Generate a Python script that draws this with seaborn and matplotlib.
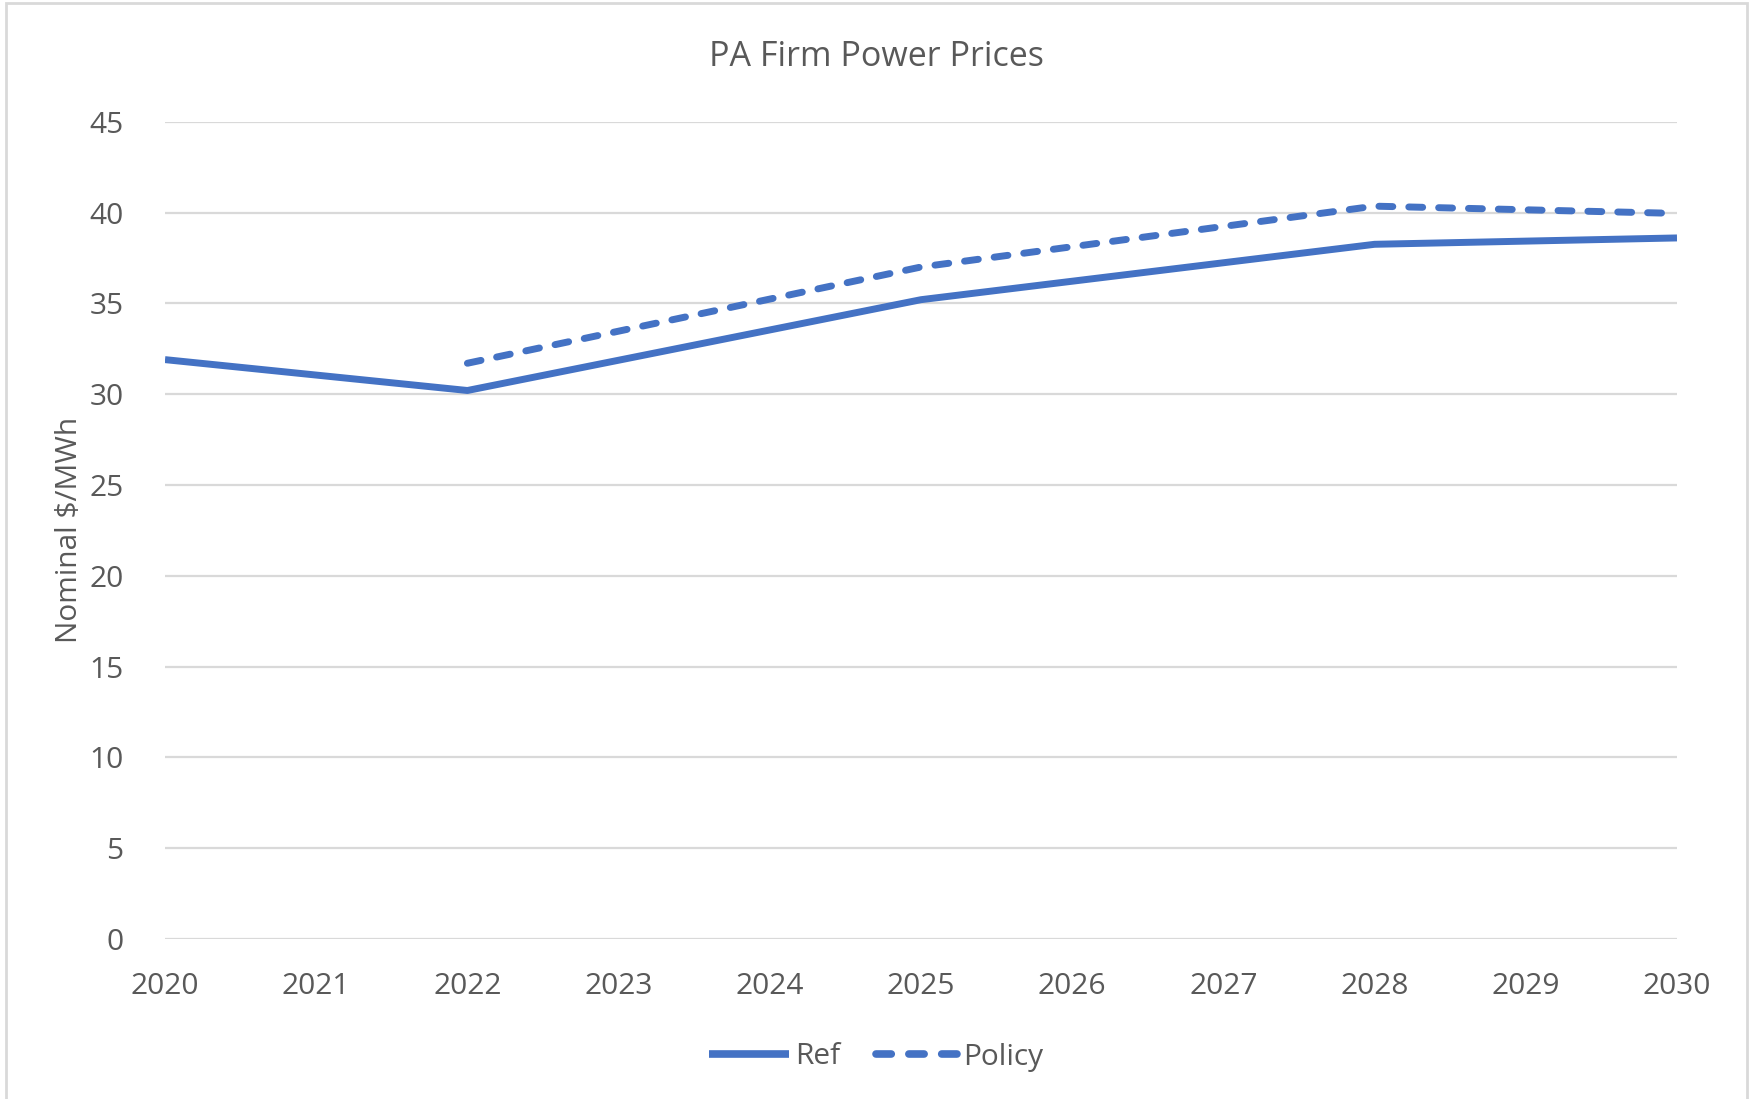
import matplotlib
matplotlib.use("Agg")
import matplotlib.pyplot as plt
import seaborn as sns
import pandas as pd
from matplotlib.patches import Rectangle

# ---- data ----
ref_years = [2020, 2022, 2025, 2028, 2030]
ref_values = [31.9, 30.2, 35.2, 38.25, 38.6]
policy_years = [2022, 2025, 2028, 2030]
policy_values = [31.7, 37.0, 40.35, 39.95]
series_names = ["Ref", "Policy"]
x_ticks = list(range(2020, 2031))
y_ticks = list(range(0, 46, 5))

df = pd.concat([
    pd.DataFrame({"Year": ref_years, "Price": ref_values, "Series": series_names[0]}),
    pd.DataFrame({"Year": policy_years, "Price": policy_values, "Series": series_names[1]}),
], ignore_index=True)

sns.set_theme(style="white")
plt.rcParams["font.family"] = ["Open Sans", "DejaVu Sans"]

TEXT = "#595959"
BLUE = "#4472C4"
GRID = "#D9D9D9"

fig = plt.figure(figsize=(17.52, 10.99), dpi=100)
ax = fig.add_axes([165/1752, 1 - 939/1099, (1677-165)/1752, (939-121.7)/1099])

sns.lineplot(data=df, x="Year", y="Price", hue="Series", style="Series",
             palette={"Ref": BLUE, "Policy": BLUE},
             dashes={"Ref": "", "Policy": (2.0, 2.3)},
             linewidth=5, ax=ax, legend=True)

for line in ax.get_lines():
    line.set_dash_capstyle("round")
    line.set_solid_capstyle("butt")

ax.set_xlim(2020, 2030)
ax.set_ylim(0, 45)
ax.set_xticks(x_ticks)
ax.set_yticks(y_ticks)
ax.set_xticklabels([str(t) for t in x_ticks])
ax.grid(axis="y", color=GRID, linewidth=1.6)
ax.grid(axis="x", visible=False)
ax.set_axisbelow(True)
for s in ax.spines.values():
    s.set_visible(False)
ax.tick_params(axis="both", length=0, labelsize=21.5, colors=TEXT)
ax.tick_params(axis="y", pad=30)
ax.tick_params(axis="x", pad=24)
ax.set_xlabel("")
ax.set_ylabel("Nominal $/MWh", fontsize=21.5, color=TEXT)
ax.yaxis.set_label_coords(-(165-84)/1512, 0.5)

fig.text(0.5, 1 - 57/1099, "PA Firm Power Prices", ha="center", va="center",
         fontsize=24.5, color=TEXT)

handles, labels = ax.get_legend_handles_labels()
for h in handles:
    h.set_dash_capstyle("round")
    h.set_linewidth(5.5)
leg = ax.legend(handles, labels, loc="center", bbox_to_anchor=(0.5, 1 - 1057/1099),
                bbox_transform=fig.transFigure, ncol=2, frameon=False,
                fontsize=21.5, handlelength=2.7, handletextpad=0.2, columnspacing=1.2)
for t in leg.get_texts():
    t.set_color(TEXT)

fig.patches.append(Rectangle((6/1752, -0.01), (1747-6)/1752, 1 - 3/1099 + 0.01,
                             transform=fig.transFigure, fill=False,
                             edgecolor="#D9D9D9", linewidth=2))

fig.savefig("out.png", dpi=100)
